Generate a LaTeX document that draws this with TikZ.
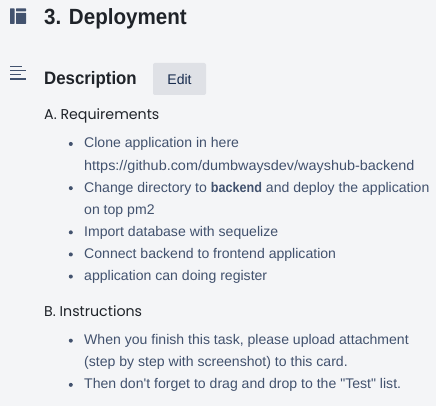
\documentclass[tikz,border=0pt]{standalone}
\usepackage{fontspec}
\setmainfont{Liberation Sans}[Ligatures=TeXOff, FakeStretch=1.005, BoldFeatures={FakeStretch=0.9}]
\newfontfamily\headfont{Poppins}
\newfontfamily\titlefont{Liberation Sans}[FakeStretch=0.935]
\usepackage{xcolor}
\usetikzlibrary{positioning}
\definecolor{page-bg}{HTML}{F4F5F7}
\definecolor{title-c}{HTML}{1F2329}
\definecolor{body-c}{HTML}{42526E}
\definecolor{btn-bg}{HTML}{DFE1E6}
\definecolor{btn-c}{HTML}{172B4D}
\begin{document}
\begin{tikzpicture}
[
x=1pt, y=-1pt,
title-a/.style={anchor=base west, inner sep=0pt, text=title-c, font=\titlefont\fontsize{22}{22}\selectfont\bfseries},
desc-a/.style={anchor=base west, inner sep=0pt, text=title-c, font=\titlefont\fontsize{18}{18}\selectfont\bfseries},
head-a/.style={anchor=base west, inner sep=0pt, text=title-c, font=\headfont\fontsize{14.2}{14}\selectfont},
line-a/.style={anchor=north west, inner sep=0pt, text=body-c, text height=15.5pt, text depth=6.2pt, font=\fontsize{14}{14}\selectfont},
bull-a/.style={circle, fill=body-c, inner sep=0pt, minimum size=4pt, left=11pt of #1.west, yshift=-0.6pt},
btn-a/.style={fill=btn-bg, rounded corners=2pt, text=btn-c, minimum width=53pt, minimum height=32pt, inner sep=0pt, font=\fontsize{14}{14}\selectfont},
icon-a/.style={fill=body-c, draw=none}
]
\fill [page-bg] (0,0) rectangle (436,406);
\useasboundingbox (0,0) rectangle (436,406);
% header
\node (title)  [title-a] at (44,25)  {3. Deployment};
\node (desc)   [desc-a]  at (44,85)  {Description};
\node (edit)   [btn-a]   at (179.5,79) {Edit};
% icons
\fill [icon-a, rounded corners=0.5pt] (10,8.5) rectangle (14.5,24);
\fill [icon-a, rounded corners=0.5pt] (16,8.5) rectangle (26,11.5);
\fill [icon-a, rounded corners=0.5pt] (16,13) rectangle (26,24);
\fill [icon-a] (10,66) rectangle (22,67.4);
\fill [icon-a] (10,70) rectangle (26,71.4);
\fill [icon-a] (10,74) rectangle (21,75.4);
\fill [icon-a] (10,78.2) rectangle (26,79.6);
% requirements
\node (head-a) [head-a] at (44,120) {A. Requirements};
\node (line-1) [line-a] at (84,132.3) {Clone application in here};
\node (line-2) [line-a, below=0mm of line-1.south west, anchor=north west] {\addfontfeature{FakeStretch=1.03}https://github.com/dumbwaysdev/wayshub-backend};
\node (line-3) [line-a, below=0mm of line-2.south west, anchor=north west] {Change directory to \textbf{backend} and deploy the application};
\node (line-4) [line-a, below=0mm of line-3.south west, anchor=north west] {on top pm2};
\node (line-5) [line-a, below=0mm of line-4.south west, anchor=north west] {Import database with sequelize};
\node (line-6) [line-a, below=0mm of line-5.south west, anchor=north west] {Connect backend to frontend application};
\node (line-7) [line-a, below=0mm of line-6.south west, anchor=north west] {application can doing register};
\node (bull-1) [bull-a=line-1] {};
\node (bull-3) [bull-a=line-3] {};
\node (bull-5) [bull-a=line-5] {};
\node (bull-6) [bull-a=line-6] {};
\node (bull-7) [bull-a=line-7] {};
% instructions
\node (head-b) [head-a] at (44,316) {B. Instructions};
\node (line-8)  [line-a] at (84,329) {When you finish this task, please upload attachment};
\node (line-9)  [line-a, below=0mm of line-8.south west, anchor=north west] {(step by step with screenshot) to this card.};
\node (line-10) [line-a, below=0mm of line-9.south west, anchor=north west] {Then don't forget to drag and drop to the "Test" list.};
\node (bull-8)  [bull-a=line-8] {};
\node (bull-10) [bull-a=line-10] {};
\end{tikzpicture}
\end{document}
